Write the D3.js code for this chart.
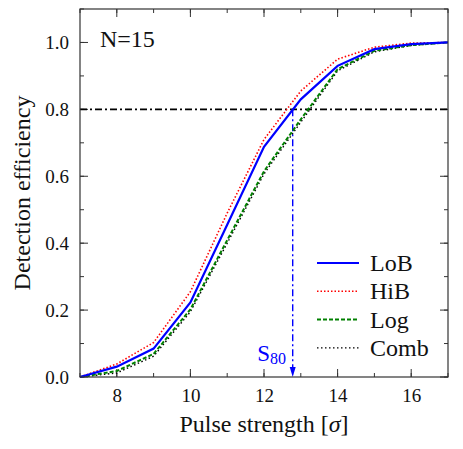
<!DOCTYPE html>
<html>
<head>
<meta charset="utf-8">
<script src="https://cdn.jsdelivr.net/npm/d3@7"></script>
<style>
  body { margin: 0; background: #fff; }
  svg text { font-family: "Liberation Serif", "DejaVu Serif", serif; fill: #111; }
  .axis path, .axis line { stroke: #333; }
</style>
</head>
<body>
<div id="chart"></div>
<script>
const W = 463, H = 449;
const M = { top: 9, right: 15, bottom: 72, left: 80 };

const strength = [7, 8, 9, 10, 11, 12, 13, 14, 15, 16, 17];
const lob  = [0, 0.031, 0.085, 0.223, 0.455, 0.688, 0.830, 0.930, 0.980, 0.995, 1.0];
const hib  = [0, 0.039, 0.103, 0.255, 0.490, 0.710, 0.855, 0.950, 0.986, 0.998, 1.0];
const logc = [0, 0.018, 0.069, 0.202, 0.409, 0.615, 0.770, 0.920, 0.975, 0.992, 1.0];
const comb = [0, 0.012, 0.062, 0.195, 0.400, 0.607, 0.762, 0.915, 0.972, 0.991, 1.0];
const xTicks = [8, 10, 12, 14, 16];
const yTicks = [0, 0.2, 0.4, 0.6, 0.8, 1.0];
const s80 = 12.78, level = 0.8;

const series = [
  { name: 'LoB',  values: lob,  color: '#0000ff', width: 2.2, dash: null },
  { name: 'HiB',  values: hib,  color: '#ff0000', width: 1.6, dash: '1.5,2' },
  { name: 'Log',  values: logc, color: '#008000', width: 2,   dash: '4,2' },
  { name: 'Comb', values: comb, color: '#000000', width: 1.4, dash: '1.5,2.5' },
];

const innerW = W - M.left - M.right, innerH = H - M.top - M.bottom;
const svg = d3.select('#chart').append('svg').attr('width', W).attr('height', H);
const g = svg.append('g').attr('transform', `translate(${M.left},${M.top})`);

const x = d3.scaleLinear().domain([7, 17]).range([0, innerW]);
const y = d3.scaleLinear().domain([0, 1.1]).range([innerH, 0]);

// axes: ticks pointing inward, minor ticks between
const minorX = d3.range(7, 17.01, 1), minorY = d3.range(0, 1.101, 0.1);
function tickLines(sel, vals, pos, len, orient) {
  vals.forEach(v => {
    const p = pos(v);
    if (orient === 'bottom') sel.append('line').attr('x1', p).attr('x2', p).attr('y1', innerH).attr('y2', innerH - len);
    if (orient === 'top') sel.append('line').attr('x1', p).attr('x2', p).attr('y1', 0).attr('y2', len);
    if (orient === 'left') sel.append('line').attr('x1', 0).attr('x2', len).attr('y1', p).attr('y2', p);
    if (orient === 'right') sel.append('line').attr('x1', innerW).attr('x2', innerW - len).attr('y1', p).attr('y2', p);
  });
}
const ticks = g.append('g').attr('stroke', '#333').attr('stroke-width', 1);
tickLines(ticks, minorX, x, 4, 'bottom');
tickLines(ticks, minorX, x, 4, 'top');
tickLines(ticks, minorY, y, 4, 'left');
tickLines(ticks, minorY, y, 4, 'right');
tickLines(ticks, xTicks, x, 8, 'bottom');
tickLines(ticks, xTicks, x, 8, 'top');
tickLines(ticks, yTicks, y, 8, 'left');
tickLines(ticks, yTicks, y, 8, 'right');

g.append('g').attr('class', 'axis').attr('transform', `translate(0,${innerH})`)
  .call(d3.axisBottom(x).tickValues(xTicks).tickSize(0).tickPadding(12))
  .call(a => a.select('.domain').remove())
  .selectAll('text').style('font-size', '19px').attr('font-family', null);
g.append('g').attr('class', 'axis')
  .call(d3.axisLeft(y).tickValues(yTicks).tickSize(0).tickPadding(11).tickFormat(d3.format('.1f')))
  .call(a => a.select('.domain').remove())
  .selectAll('text').style('font-size', '19px').attr('font-family', null);

// reference lines
g.append('line').attr('x1', x(7)).attr('x2', x(17)).attr('y1', y(level)).attr('y2', y(level))
  .attr('stroke', '#000').attr('stroke-width', 1.6).attr('stroke-dasharray', '7,3,2,3');
g.append('line').attr('x1', x(s80)).attr('x2', x(s80)).attr('y1', y(level)).attr('y2', y(0) - 8)
  .attr('stroke', '#0000ff').attr('stroke-width', 1.4).attr('stroke-dasharray', '7,3,2,3');
g.append('path')
  .attr('d', `M${x(s80) - 3},${y(0) - 10} L${x(s80) + 3},${y(0) - 10} L${x(s80)},${y(0)} Z`)
  .attr('fill', '#0000ff');

const line = d3.line().x((d, i) => x(strength[i])).y(d => y(d));
series.slice().reverse().forEach(s => {
  g.append('path').datum(s.values).attr('d', line)
    .attr('fill', 'none').attr('stroke', s.color).attr('stroke-width', s.width)
    .attr('stroke-dasharray', s.dash);
});

// frame
g.append('rect').attr('width', innerW).attr('height', innerH)
  .attr('fill', 'none').attr('stroke', '#333').attr('stroke-width', 1.2);

// S80 label
const sl = g.append('text').attr('x', x(s80) - 35.5).attr('y', y(0) - 16)
  .style('fill', '#0000ff').style('font-size', '23px');
sl.append('tspan').text('S');
sl.append('tspan').attr('dy', 3).style('font-size', '16px').text('80');

// N=15
g.append('text').attr('x', 20).attr('y', 38).style('font-size', '24px').text('N=15');

// legend
const lg = g.append('g').attr('transform', `translate(${317 - M.left},${263 - M.top})`);
series.forEach((s, i) => {
  const row = lg.append('g').attr('transform', `translate(0,${i * 28.3})`);
  row.append('line').attr('x1', 0).attr('x2', 42).attr('y1', 0).attr('y2', 0)
    .attr('stroke', s.color).attr('stroke-width', s.width).attr('stroke-dasharray', s.dash);
  row.append('text').attr('x', 53).attr('y', 8).style('font-size', '24px').text(s.name);
});

// axis titles
svg.append('text').attr('x', M.left + innerW / 2).attr('y', 432)
  .attr('text-anchor', 'middle').style('font-size', '24px')
  .html('Pulse strength [<tspan font-style="italic">σ</tspan>]');
svg.append('text').attr('transform', `translate(30,${M.top + innerH / 2}) rotate(-90)`)
  .attr('text-anchor', 'middle').style('font-size', '24px').text('Detection efficiency');
</script>
</body>
</html>
